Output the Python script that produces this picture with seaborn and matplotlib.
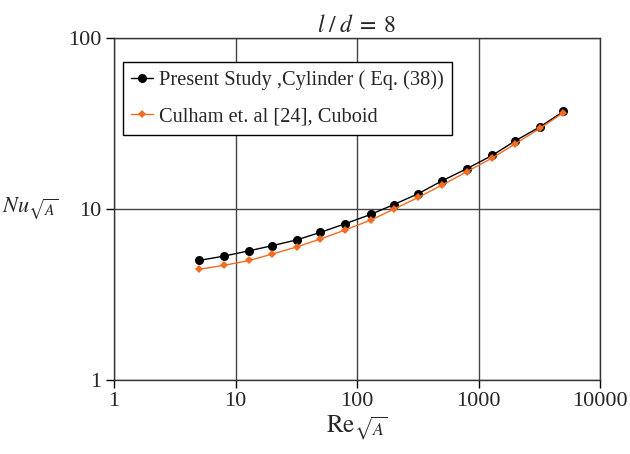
import matplotlib
matplotlib.use("Agg")
import matplotlib.pyplot as plt
import seaborn as sns
import pandas as pd

re_values = [5, 8, 13, 20, 32, 50, 80, 130, 200, 320, 500, 800, 1300, 2000, 3200, 5000]
nu_cylinder = [5.0, 5.3, 5.7, 6.1, 6.6, 7.3, 8.2, 9.3, 10.6, 12.3, 14.6, 17.2, 20.6, 25.0, 30.2, 37.2]
nu_cuboid = [4.44, 4.68, 5.0, 5.45, 6.0, 6.68, 7.54, 8.62, 9.96, 11.7, 13.8, 16.5, 19.9, 24.0, 29.6, 36.6]
series_names = ["Present Study ,Cylinder ( Eq. (38))", "Culham et. al [24], Cuboid"]
x_ticks = [1, 10, 100, 1000, 10000]
x_tick_labels = ["1", "10", "100", "1000", "10000"]
y_ticks = [1, 10, 100]
y_tick_labels = ["1", "10", "100"]

sns.set_style("white")
plt.rcParams["font.family"] = ["Liberation Serif", "DejaVu Serif"]
plt.rcParams["mathtext.fontset"] = "stix"

df = pd.DataFrame({"Re": re_values * 2,
                   "Nu": nu_cylinder + nu_cuboid,
                   "series": [series_names[0]] * len(re_values) + [series_names[1]] * len(re_values)})

fig = plt.figure(figsize=(6.3, 4.54), dpi=100)
ax = fig.add_axes([114 / 630, 1 - 380 / 454, 486 / 630, 342 / 454])

sns.lineplot(data=df[df.series == series_names[0]], x="Re", y="Nu", ax=ax,
             color="black", marker="o", markersize=6.5, markeredgewidth=0,
             linewidth=1.0, label=series_names[0])
sns.lineplot(data=df[df.series == series_names[1]], x="Re", y="Nu", ax=ax,
             color="#f26b21", marker="D", markersize=4, markeredgewidth=0,
             linewidth=1.0, label=series_names[1])

ax.set_xscale("log")
ax.set_yscale("log")
ax.set_xlim(1, 10000)
ax.set_ylim(1, 100)
ax.set_xticks(x_ticks)
ax.set_xticklabels(x_tick_labels)
ax.set_yticks(y_ticks)
ax.set_yticklabels(y_tick_labels)
ax.minorticks_off()
ax.tick_params(axis="both", which="major", direction="out", length=6, width=1,
               color="black", labelsize=16, pad=3, bottom=True, left=True)
ax.grid(True, which="major", color="#444444", linewidth=1.0)
for s in ax.spines.values():
    s.set_color("#333333")
    s.set_linewidth(1.0)

ax.set_xlabel(r"$\mathrm{Re}_{\sqrt{A}}$", fontsize=18, labelpad=2)
ax.set_ylabel(r"$Nu_{\sqrt{A}}$", fontsize=16, rotation=0, ha="right", va="center")
ax.yaxis.set_label_coords(-0.115, 0.5)
ax.set_title(r"$l\;/\;d\;=\;8$", fontsize=17, pad=4)

leg = ax.legend(loc="upper left", bbox_to_anchor=(0.018, 0.93), fontsize=14.7,
                frameon=True, fancybox=False, framealpha=1, edgecolor="black",
                handlelength=1.1, handletextpad=0.3, borderpad=0.4, labelspacing=0.85,
                borderaxespad=0)
leg.get_frame().set_linewidth(1.0)

fig.savefig("out.png", dpi=100)
